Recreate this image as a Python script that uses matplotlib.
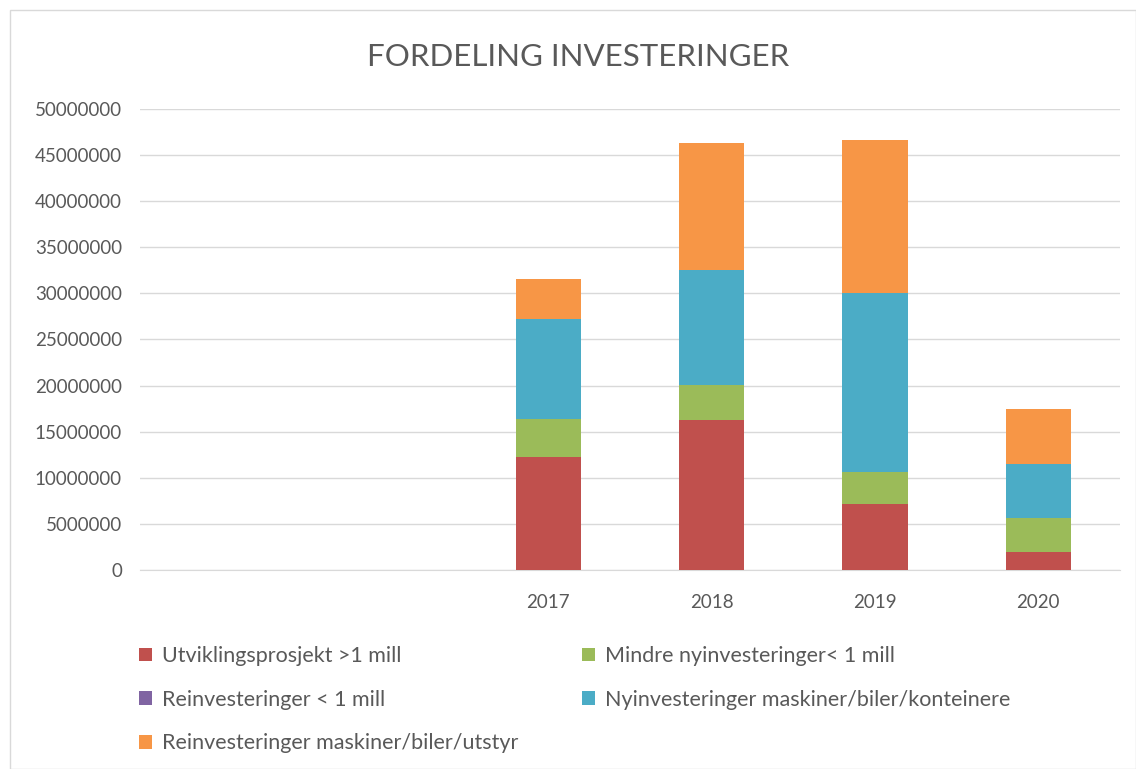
import matplotlib.pyplot as plt
from matplotlib.patches import Rectangle

plt.rcParams['font.family'] = ['Lato', 'DejaVu Sans']

# categories (two empty slots before 2017, as in the source sheet)
years = ['', '', '2017', '2018', '2019', '2020']

# values in NOK per series
utvikling = [0, 0, 12300000, 16300000, 7150000, 1900000]
mindre_ny = [0, 0, 4050000, 3800000, 3450000, 3700000]
reinv_small = [0, 0, 0, 0, 0, 0]
ny_maskiner = [0, 0, 10850000, 12400000, 19400000, 5900000]
reinv_maskiner = [0, 0, 4400000, 13800000, 16600000, 6000000]

series = [
    ('Utviklingsprosjekt >1 mill', utvikling, '#C0504D'),
    ('Mindre nyinvesteringer< 1 mill', mindre_ny, '#9BBB59'),
    ('Reinvesteringer < 1 mill', reinv_small, '#8064A2'),
    ('Nyinvesteringer maskiner/biler/konteinere', ny_maskiner, '#4BACC6'),
    ('Reinvesteringer maskiner/biler/utstyr', reinv_maskiner, '#F79646'),
]

fig = plt.figure(figsize=(11.36, 7.69), dpi=100)
ax = fig.add_axes([140 / 1136, 1 - 570 / 769, 980 / 1136, 461 / 769])

x = list(range(len(years)))
bottom = [0] * len(years)
handles = {}
for name, vals, col in series:
    b = ax.bar(x, vals, width=0.4, bottom=bottom, color=col, label=name, zorder=3)
    handles[name] = b
    bottom = [a + v for a, v in zip(bottom, vals)]

ax.set_xlim(-0.5, len(years) - 0.5)
ax.set_ylim(0, 50000000)
ax.set_yticks(range(0, 50000001, 5000000))
ax.set_yticklabels([str(v) for v in range(0, 50000001, 5000000)])
ax.set_xticks(x)
ax.set_xticklabels(years)
ax.grid(axis='y', color='#D9D9D9', linewidth=1, zorder=0)
for s in ['top', 'right', 'left']:
    ax.spines[s].set_visible(False)
ax.spines['bottom'].set_color('#D9D9D9')
ax.tick_params(axis='both', length=0, colors='#595959', labelsize=13.5)
ax.tick_params(axis='x', pad=17)
ax.tick_params(axis='y', pad=13)

fig.text(0.509, 1 - 57 / 769, 'FORDELING INVESTERINGER', ha='center', va='center',
         fontsize=22.5, color='#595959')

# legend laid out in two columns like the spreadsheet legend
legend_kw = dict(loc='upper left', frameon=False, fontsize=15.5, labelcolor='#595959',
                 handlelength=0.6, handleheight=0.6, handletextpad=0.45,
                 labelspacing=1.1, borderaxespad=0, borderpad=0)
col1 = [0, 2, 4]
col2 = [1, 3]
fig.legend([handles[series[i][0]] for i in col1], [series[i][0] for i in col1],
           bbox_to_anchor=(139 / 1136, 1 - 646 / 769), **legend_kw)
fig.legend([handles[series[i][0]] for i in col2], [series[i][0] for i in col2],
           bbox_to_anchor=(582 / 1136, 1 - 646 / 769), **legend_kw)

fig.patches.append(Rectangle((10 / 1136, 0), 1 - 10 / 1136, 1 - 10 / 769,
                             transform=fig.transFigure, fill=False,
                             edgecolor='#D9D9D9', linewidth=1))

fig.savefig('out.png', dpi=100)
